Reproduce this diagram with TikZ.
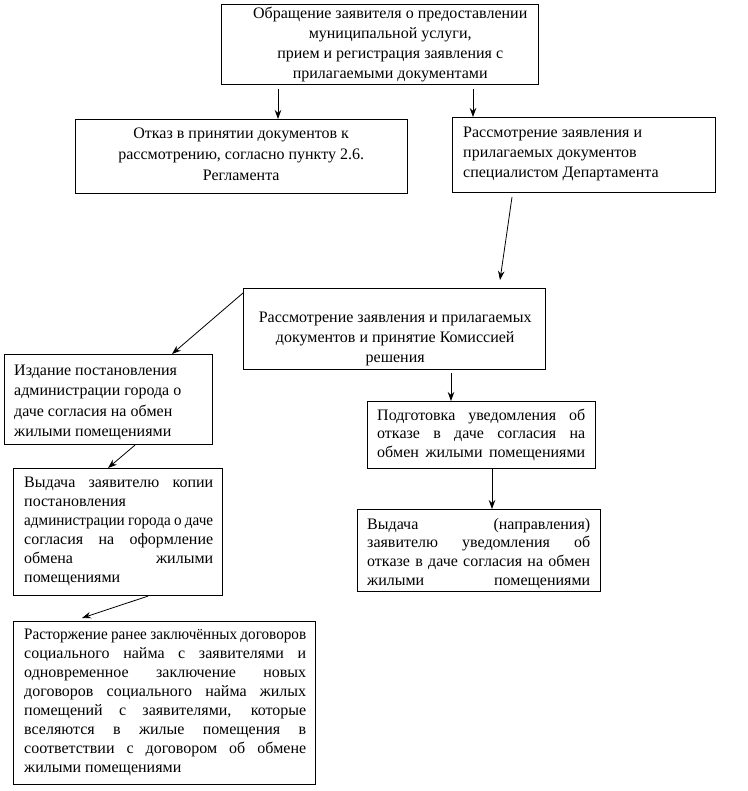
\documentclass[tikz,border=0pt]{standalone}
\usepackage{fontspec}
\usepackage{graphicx}
\setmainfont{Liberation Serif}
\usetikzlibrary{arrows.meta}
\newcommand\jl[1]{\hbox to\hsize{\spaceskip=4pt plus 1fil minus 3pt\relax #1}\par}
\newcommand\squeeze[1]{\resizebox{\hsize}{\height}{#1}}
\tikzset{
  box/.style={draw, line width=1.1pt, inner sep=0pt, anchor=north west},
  txt/.style={inner sep=0pt, anchor=base west, font=\fontsize{16}{#1}\selectfont},
  arr/.style={line width=0.8pt, -{Stealth[length=9pt,width=6.5pt]}},
}
\begin{document}
\begin{tikzpicture}[x=1pt, y=-1pt]
\fill[white] (0,0) rectangle (747,791);
\useasboundingbox (0,0) rectangle (747,791);
% boxes
\node[box, minimum width=317pt, minimum height=80pt] (b1) at (221,4) {};
\node[box, minimum width=332pt, minimum height=74pt] (b2) at (75,119) {};
\node[box, minimum width=263pt, minimum height=75pt] (b3) at (452,117) {};
\node[box, minimum width=302pt, minimum height=81pt] (b4) at (243,288) {};
\node[box, minimum width=208pt, minimum height=90pt] (b5) at (4,354) {};
\node[box, minimum width=228pt, minimum height=67pt] (b6) at (367,401) {};
\node[box, minimum width=243pt, minimum height=82pt] (b7) at (357,509) {};
\node[box, minimum width=209pt, minimum height=127pt] (b8) at (13,468) {};
\node[box, minimum width=302pt, minimum height=163pt] (b9) at (13,621) {};
% texts
\node[txt=20pt, text width=320pt] (t1) at (230,19) {%
\jl{\hfill Обращение заявителя о предоставлении\hfill}%
\jl{\hfill муниципальной услуги,\hfill}%
\jl{\hfill прием и регистрация заявления с\hfill}%
\jl{\hfill прилагаемыми документами\hfill}};
\node[txt=21pt, text width=300pt] (t2) at (91,139) {%
\jl{\hfill Отказ в принятии документов к\hfill}%
\jl{\hfill рассмотрению, согласно пункту 2.6.\hfill}%
\jl{\hfill Регламента\hfill}};
\node[txt=20pt, text width=240pt] (t3) at (463,138) {%
\jl{Рассмотрение заявления и\hfill}%
\jl{прилагаемых документов\hfill}%
\jl{специалистом Департамента\hfill}};
\node[txt=20pt, text width=300pt] (t4) at (245,322) {%
\jl{\hfill Рассмотрение заявления и прилагаемых\hfill}%
\jl{\hfill документов и принятие Комиссией\hfill}%
\jl{\hfill решения\hfill}};
\node[txt=20.5pt, text width=190pt] (t5) at (14,375) {%
\jl{Издание постановления\hfill}%
\jl{администрации города о\hfill}%
\jl{даче согласия на обмен\hfill}%
\jl{жилыми помещениями\hfill}};
\node[txt=18.5pt, text width=208pt] (t6) at (377,420) {%
\jl{Подготовка уведомления об}%
\jl{отказе в даче согласия на}%
\jl{обмен жилыми помещениями}};
\node[txt=18.7pt, text width=223pt] (t7) at (367,529) {%
\jl{Выдача (направления)}%
\jl{заявителю уведомления об}%
\jl{отказе в даче согласия на обмен}%
\jl{жилыми помещениями}};
\node[txt=19pt, text width=189pt] (t8) at (24,487) {%
\jl{Выдача заявителю копии}%
\jl{постановления\hfill}%
\jl{\squeeze{администрации\hspace{3.5pt}города\hspace{3.5pt}о\hspace{3.5pt}даче}}%
\jl{согласия на оформление}%
\jl{обмена жилыми}%
\jl{помещениями\hfill}};
\node[txt=19.1pt, text width=282pt] (t9) at (24,639) {%
\jl{\squeeze{Расторжение\hspace{3.5pt}ранее\hspace{3.5pt}заключённых\hspace{3.5pt}договоров}}%
\jl{социального найма с заявителями и}%
\jl{одновременное заключение новых}%
\jl{договоров социального найма жилых}%
\jl{помещений с заявителями, которые}%
\jl{вселяются в жилые помещения в}%
\jl{соответствии с договором об обмене}%
\jl{жилыми помещениями\hfill}};
% arrows
\draw[arr] ([yshift=-4pt]b1.south -| 278,0) -- (b2.north -| 278,0);
\draw[arr] ([yshift=-4pt]b1.south -| 473,0) -- (b3.north -| 473,0);
\draw[arr] ([yshift=-4pt]b3.south -| 512,0) -- ([yshift=8pt]b4.north -| 500,0);
\draw[arr] ([yshift=-5pt]b4.north west) -- (b5.north -| 172,0);
\draw[arr] ([yshift=-3pt]b4.south -| 451,0) -- (b6.north -| 451,0);
\draw[arr] (b6.south -| 492,0) -- (b7.north -| 492,0);
\draw[arr] (b5.south -| 135,0) -- (b8.north -| 108,0);
\draw[arr] (b8.south -| 148,0) -- ([yshift=3pt]b9.north -| 82,0);
\end{tikzpicture}
\end{document}
